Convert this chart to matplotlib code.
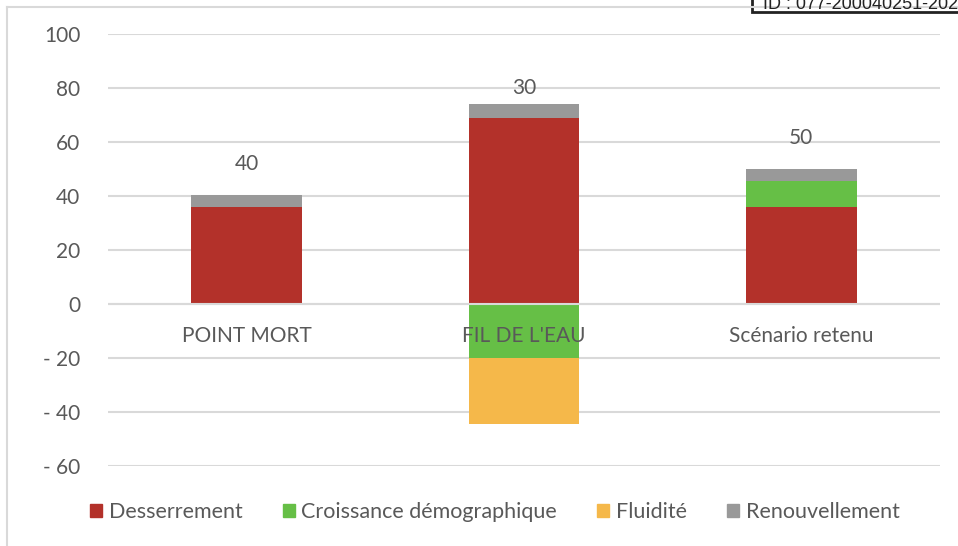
import matplotlib.pyplot as plt
import numpy as np
from matplotlib.lines import Line2D
from matplotlib.patches import Rectangle
from matplotlib.ticker import FuncFormatter

plt.rcParams["font.family"] = ["Lato", "DejaVu Sans"]

categories = ["POINT MORT", "FIL DE L'EAU", "Scénario retenu"]
series_names = ["Desserrement", "Croissance démographique", "Fluidité", "Renouvellement"]
desserrement = [36, 69, 36]
croissance = [0, -20, 9.5]
fluidite = [0, -24.5, 0]
renouvellement = [4.5, 5, 4.5]
totals = [40, 30, 50]

colors = ["#b3312a", "#66bf46", "#f5b84a", "#999999"]
text_color = "#595959"
grid_color = "#d9d9d9"

W, H = 958, 546
fig = plt.figure(figsize=(W / 100, H / 100), dpi=100)
ax = fig.add_axes([108 / W, 1 - 466 / H, (940 - 108) / W, (466 - 34) / H])

x = np.arange(len(categories))
pos_bottom = np.zeros(len(categories))
neg_bottom = np.zeros(len(categories))
for name, values, color in zip(series_names,
                               [desserrement, croissance, fluidite, renouvellement],
                               colors):
    values = np.array(values, dtype=float)
    bottom = np.where(values >= 0, pos_bottom, neg_bottom)
    ax.bar(x, values, 0.4, bottom=bottom, color=color, label=name, zorder=2)
    pos_bottom += np.where(values >= 0, values, 0)
    neg_bottom += np.where(values < 0, values, 0)

# total labels above each stack
for xi, top, total in zip(x, pos_bottom, totals):
    ax.text(xi, min(top + 11.5, 80), f"{total}", ha="center", va="center",
            fontsize=15, color=text_color, zorder=4)

# category labels sit just under the zero line
for xi, cat in zip(x, categories):
    ax.annotate(cat, (xi, 0), xytext=(0, -23), textcoords="offset points",
                ha="center", va="center", fontsize=15, color=text_color, zorder=4)

ax.axhline(0, color=grid_color, lw=1.5, zorder=3)
ax.set_xlim(-0.5, 2.5)
ax.set_ylim(-60, 100)
ax.set_yticks(range(-60, 101, 20))
ax.yaxis.set_major_formatter(FuncFormatter(lambda v, _: f"- {abs(int(v))}" if v < 0 else f"{int(v)}"))
ax.set_xticks([])
ax.tick_params(axis="y", length=0, pad=20, labelsize=15, labelcolor=text_color)
ax.grid(axis="y", color=grid_color, lw=1.5, zorder=0)
ax.set_axisbelow(True)
for s in ax.spines.values():
    s.set_visible(False)

handles = [Rectangle((0, 0), 1, 1, color=c) for c in colors]
fig.legend(handles, series_names, loc="center", bbox_to_anchor=(495 / W, 1 - 512 / H),
           ncol=4, frameon=False, fontsize=15.5, labelcolor=text_color,
           handlelength=0.56, handleheight=0.56, handletextpad=0.3, columnspacing=1.87)

# outer chart frame (left and top edges visible)
fig.add_artist(Line2D([7 / W, 7 / W], [0, 1 - 7 / H], color=grid_color, lw=1.5))
fig.add_artist(Line2D([7 / W, 1], [1 - 7 / H, 1 - 7 / H], color=grid_color, lw=1.5))

# stamp box in the top right corner
fig.add_artist(Rectangle((752 / W, 1 - 12 / H), 0.3, 0.1, transform=fig.transFigure,
                         facecolor="white", edgecolor="#222222", lw=2, clip_on=False))
fig.text(763 / W, 1 - 9 / H, "ID : 077-200040251-202", family="Liberation Sans",
         fontsize=13, color="#222222", ha="left", va="baseline")

fig.savefig("out.png", dpi=100)
